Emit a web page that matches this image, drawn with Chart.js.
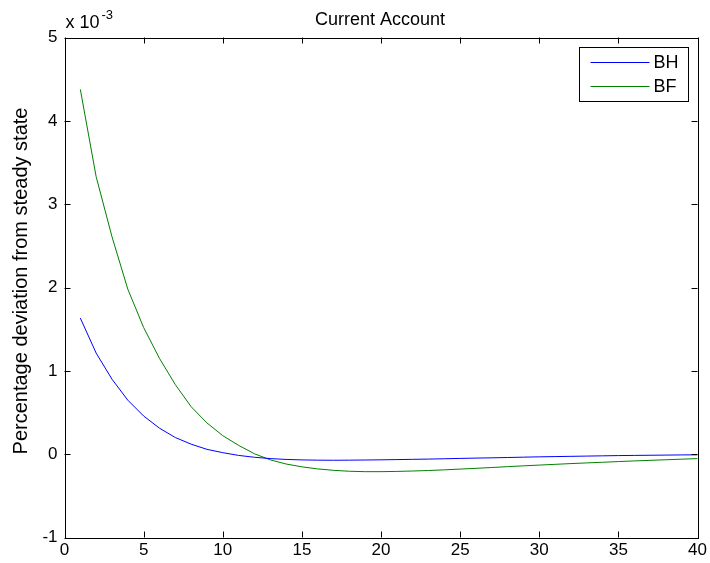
<!DOCTYPE html>
<html>
<head>
<meta charset="utf-8">
<script src="https://cdn.jsdelivr.net/npm/chart.js@4/dist/chart.umd.min.js"></script>
<style>
  html, body { margin: 0; padding: 0; background: #fff; }
  #wrap { width: 710px; height: 563px; position: relative; }
</style>
</head>
<body>
<div id="wrap"><canvas id="myChart" width="710" height="563"></canvas></div>
<script>
// values are in units of 10^-3
var periods = [1,2,3,4,5,6,7,8,9,10,11,12,13,14,15,16,17,18,19,20,
               21,22,23,24,25,26,27,28,29,30,31,32,33,34,35,36,37,38,39,40];
var bh = [1.633,1.213,0.900,0.648,0.458,0.312,0.200,0.120,0.058,0.018,
          -0.015,-0.037,-0.053,-0.063,-0.069,-0.072,-0.073,-0.072,-0.070,-0.068,
          -0.065,-0.062,-0.059,-0.055,-0.051,-0.047,-0.044,-0.040,-0.036,-0.032,
          -0.029,-0.026,-0.023,-0.020,-0.017,-0.015,-0.013,-0.011,-0.009,-0.008];
var bf = [4.378,3.330,2.610,1.980,1.520,1.150,0.835,0.570,0.375,0.222,
          0.106,0.005,-0.068,-0.118,-0.152,-0.177,-0.194,-0.205,-0.210,-0.210,
          -0.207,-0.202,-0.196,-0.188,-0.179,-0.170,-0.160,-0.150,-0.140,-0.131,
          -0.122,-0.113,-0.105,-0.097,-0.089,-0.081,-0.074,-0.067,-0.060,-0.053];
var xTicks = [0,5,10,15,20,25,30,35,40];
var yTicks = [-1,0,1,2,3,4,5];
var seriesNames = ['BH', 'BF'];
var seriesColors = ['#0000ff', '#008000'];

var FONT = 'Liberation Sans, Arial, sans-serif';

function pts(ys) {
  return periods.map(function (p, i) { return {x: p, y: ys[i]}; });
}

// frame, inward ticks, title, exponent label and legend box
var matlabLook = {
  id: 'matlabLook',
  afterDraw: function (chart) {
    var c = chart.ctx, a = chart.chartArea;
    var xs = chart.scales.x, ys = chart.scales.y;
    c.save();
    c.strokeStyle = '#000';
    c.lineWidth = 1;
    c.strokeRect(Math.round(a.left) + 0.5, Math.round(a.top) + 0.5,
                 Math.round(a.right - a.left), Math.round(a.bottom - a.top));
    var tl = 6;
    c.beginPath();
    xTicks.forEach(function (v) {
      var px = Math.round(xs.getPixelForValue(v)) + 0.5;
      c.moveTo(px, a.bottom); c.lineTo(px, a.bottom - tl);
      c.moveTo(px, a.top); c.lineTo(px, a.top + tl);
    });
    yTicks.forEach(function (v) {
      var py = Math.round(ys.getPixelForValue(v)) + 0.5;
      c.moveTo(a.left, py); c.lineTo(a.left + tl, py);
      c.moveTo(a.right, py); c.lineTo(a.right - tl, py);
    });
    c.stroke();

    c.fillStyle = '#000';
    c.font = '18px ' + FONT;
    c.textAlign = 'center';
    c.textBaseline = 'alphabetic';
    c.fillText('Current Account', (a.left + a.right) / 2 - 1, 25);

    // y axis title, centred a little above the plot middle as in the original
    c.save();
    c.translate(21, 281);
    c.rotate(-Math.PI / 2);
    c.font = '20px ' + FONT;
    c.textBaseline = 'middle';
    c.fillText(ys.options.title.text, 0, 0);
    c.restore();

    c.textAlign = 'left';
    c.font = '18px ' + FONT;
    c.fillText('x 10', a.left + 1, 28);
    c.font = '13px ' + FONT;
    c.fillText('-3', a.left + 37, 19);

    // legend
    var bx = 579.5, by = 47.5, bw = 109, bh2 = 54;
    c.fillStyle = '#fff';
    c.fillRect(bx, by, bw, bh2);
    c.strokeStyle = '#000';
    c.strokeRect(bx, by, bw, bh2);
    chart.data.datasets.forEach(function (ds, i) {
      var ly = by + 15 + i * 24;
      c.strokeStyle = ds.borderColor;
      c.beginPath();
      c.moveTo(bx + 11, ly); c.lineTo(bx + 70, ly);
      c.stroke();
      c.fillStyle = '#000';
      c.font = '18px ' + FONT;
      c.textBaseline = 'middle';
      c.fillText(ds.label, bx + 74, ly + 1);
    });
    c.restore();
  }
};

var ctx = document.getElementById('myChart').getContext('2d');
var chart = new Chart(ctx, {
  type: 'line',
  data: {
    datasets: [
      { label: seriesNames[0], data: pts(bh), borderColor: seriesColors[0], borderWidth: 1,
        pointRadius: 0, fill: false, tension: 0 },
      { label: seriesNames[1], data: pts(bf), borderColor: seriesColors[1], borderWidth: 1,
        pointRadius: 0, fill: false, tension: 0 }
    ]
  },
  options: {
    responsive: false,
    animation: false,
    layout: { padding: { left: 0, right: 12, top: 37.5, bottom: 0 } },
    plugins: {
      legend: { display: false },
      tooltip: { enabled: false },
      title: { display: false }
    },
    scales: {
      x: {
        type: 'linear', min: 0, max: 40,
        afterBuildTicks: function (s) { s.ticks = xTicks.map(function (v) { return {value: v}; }); },
        afterFit: function (s) { s.height = 25.5; },
        grid: { display: false, drawTicks: false },
        border: { display: false },
        ticks: { color: '#000', font: { family: FONT, size: 17 }, padding: 3, maxRotation: 0 }
      },
      y: {
        type: 'linear', min: -1, max: 5,
        afterBuildTicks: function (s) { s.ticks = yTicks.map(function (v) { return {value: v}; }); },
        afterFit: function (s) { s.width = 64.5; },
        grid: { display: false, drawTicks: false },
        border: { display: false },
        ticks: { color: '#000', font: { family: FONT, size: 17 }, padding: 7 },
        // text kept here, drawn by the plugin so it can sit where the original puts it
        title: { display: false, text: 'Percentage deviation from steady state' }
      }
    }
  },
  plugins: [matlabLook]
});
</script>
</body>
</html>
